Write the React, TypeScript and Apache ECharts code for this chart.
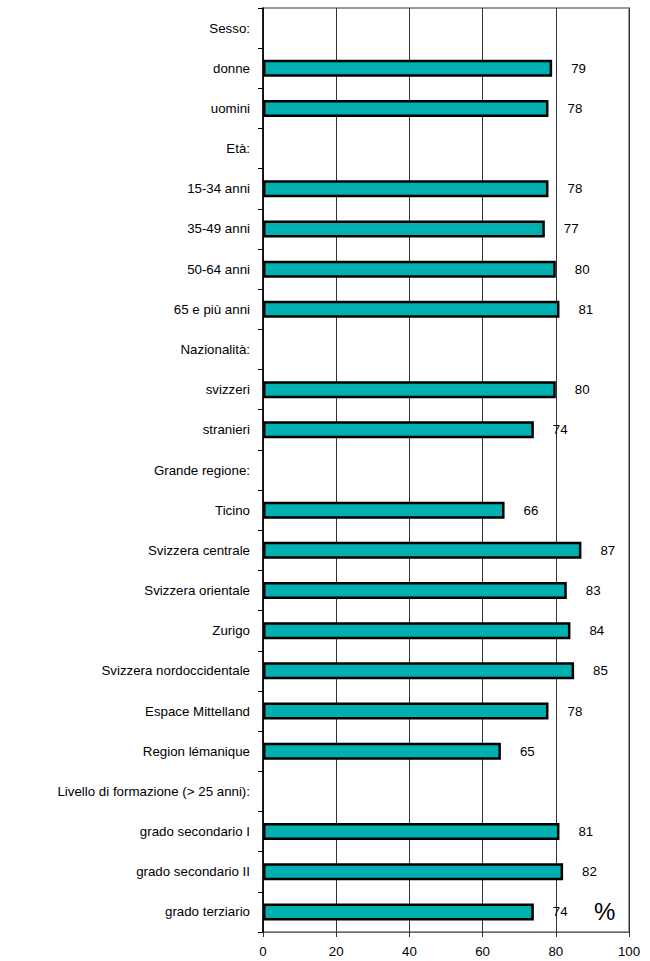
import React, { useEffect, useRef } from "react";
import * as echarts from "echarts";

const categories = [
  "Sesso:", "donne", "uomini",
  "Età:", "15-34 anni", "35-49 anni", "50-64 anni", "65 e più anni",
  "Nazionalità:", "svizzeri", "stranieri",
  "Grande regione:", "Ticino", "Svizzera centrale", "Svizzera orientale", "Zurigo",
  "Svizzera nordoccidentale", "Espace Mittelland", "Region lémanique",
  "Livello di formazione (> 25 anni):", "grado secondario I", "grado secondario II", "grado terziario",
];

const values: (number | null)[] = [
  null, 79, 78,
  null, 78, 77, 80, 81,
  null, 80, 74,
  null, 66, 87, 83, 84, 85, 78, 65,
  null, 81, 82, 74,
];

const xTicks = [0, 20, 40, 60, 80, 100];
const unitLabel = "%";

export default function App() {
  const ref = useRef<HTMLDivElement>(null);
  useEffect(() => {
    document.body.style.margin = "0";
    if (!ref.current) return;
    const chart = echarts.init(ref.current, null, { renderer: "svg" });
    const font = "Liberation Sans, Arial, sans-serif";
    chart.setOption({
      animation: false,
      textStyle: { fontFamily: font },
      grid: {
        left: 263, right: 21, top: 8, bottom: 29,
        show: true, borderColor: "#999", borderWidth: 2, containLabel: false,
      },
      xAxis: {
        type: "value",
        min: xTicks[0],
        max: xTicks[xTicks.length - 1],
        interval: 20,
        axisLine: { show: true, lineStyle: { color: "#666", width: 1 } },
        axisTick: { show: true, length: 5, lineStyle: { color: "#333" } },
        splitLine: { show: true, lineStyle: { color: "#333", width: 1 } },
        axisLabel: { color: "#000", fontSize: 13.3, fontFamily: font, margin: 13 },
      },
      yAxis: {
        type: "category",
        data: categories,
        inverse: true,
        axisLine: { show: true, lineStyle: { color: "#000", width: 1.5 } },
        axisTick: { show: true, length: 5, lineStyle: { color: "#000" } },
        axisLabel: { color: "#000", fontSize: 13.3, fontFamily: font, margin: 13 },
      },
      series: [
        {
          type: "bar",
          data: values,
          barWidth: 17,
          itemStyle: { color: "#00AFAF", borderColor: "#000", borderWidth: 2.5 },
          label: {
            show: true,
            position: "right",
            distance: 19,
            color: "#000",
            fontSize: 13.3,
            fontFamily: font,
          },
        },
      ],
      graphic: [
        {
          type: "text",
          left: 594,
          top: 899,
          style: { text: unitLabel, fontSize: 24, fontFamily: font, fill: "#000" },
        },
      ],
    });
    return () => chart.dispose();
  }, []);
  return <div ref={ref} style={{ width: 650, height: 961 }} />;
}
